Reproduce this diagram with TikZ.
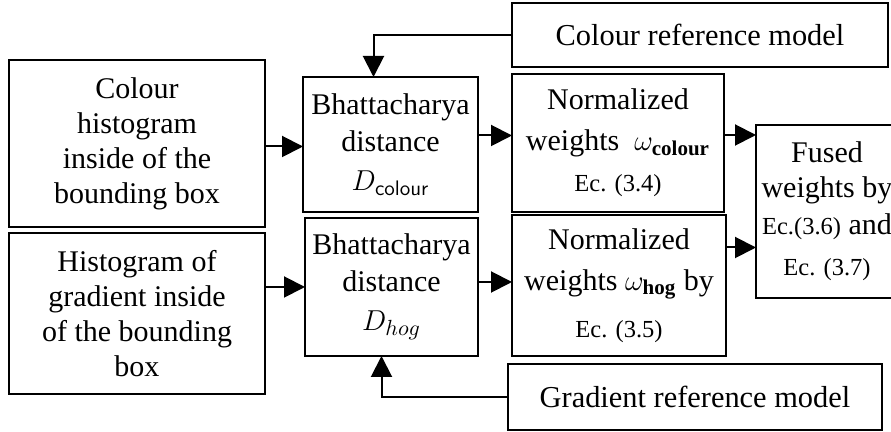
\documentclass[tikz,border=0pt]{standalone}
\usepackage{fontspec}
\setmainfont{Liberation Serif}
\usetikzlibrary{positioning,arrows.meta}

\newcommand{\eqfont}{\fontsize{12.25}{14}\selectfont}

\begin{document}
\begin{tikzpicture}[
	x=0.5pt, y=-0.5pt,
	mybox/.style = {
		draw, rectangle, align=center, line width=1pt,
		font=\fontsize{15}{17.5}\selectfont,
		inner sep=0pt, outer sep=0pt},
	refbox/.style = {
		mybox, font=\fontsize{15.2}{17.5}\selectfont},
	arrow/.style = {line width=1pt, -{Triangle[length=10.5pt,width=10.5pt]}}
]
\useasboundingbox (0,0) rectangle (891,432);
\clip (0,0) rectangle (891,432);

\node (hcol) [mybox, minimum width=128pt, minimum height=83.5pt] at (137,143.5)
	{Colour\\ histogram\\ inside of the\\ bounding box};
\node (hhog) [mybox, minimum width=128pt, minimum height=80.5pt] at (137,313.5)
	{Histogram of\\ gradient inside\\ of the bounding\\ box};

\node (bcol) [mybox, minimum width=87.5pt, minimum height=67.5pt] at (390.5,144.5)
	{Bhattacharya\\[1pt] distance\\[2pt] $D_{\mathsf{colour}}$};
\node (bhog) [mybox, minimum width=86.5pt, minimum height=69pt] at (391.5,287)
	{Bhattacharya\\[1pt] distance\\[2pt] $D_{hog}$};

\node (ncol) [mybox, minimum width=106pt, minimum height=69pt] at (618,143)
	{Normalized\\[3pt] weights~~$\omega_{\mathbf{colour}}$\\[3pt] {\eqfont Ec. (3.4)}};
\node (nhog) [mybox, minimum width=107pt, minimum height=70.5pt] at (619,285.5)
	{Normalized\\[3pt] weights $\omega_{\mathbf{hog}}$ by\\[6pt] {\eqfont Ec. (3.5)}};

\node (fused) [mybox, minimum width=71pt, minimum height=86.5pt] at (827,211.5)
	{Fused\\ weights by\\[1pt] {\eqfont Ec.(3.6)} and\\[3pt] {\eqfont Ec. (3.7)}};

\node (rcol) [refbox, minimum width=188pt, minimum height=32pt] at (700,35)
	{Colour reference model};
\node (rhog) [refbox, minimum width=187pt, minimum height=33pt] at (695,397)
	{Gradient reference model};

\draw[arrow] ([yshift=-1.5pt]hcol.east) -- ([yshift=-1.5pt]hcol.east -| bcol.west);
\draw[arrow] (hhog.east |- bhog) -- (bhog.west);
\draw[arrow] ([yshift=4.5pt]bcol.east) -- ([yshift=4.5pt]bcol.east -| ncol.west);
\draw[arrow] ([yshift=2.5pt]bhog.east) -- ([yshift=2.5pt]bhog.east -| nhog.west);
\draw[arrow] ([yshift=4pt]ncol.east) -- ([yshift=4pt]ncol.east -| fused.west);
\draw[arrow] ([yshift=19pt]nhog.east) -- ([yshift=19pt]nhog.east -| fused.west);
\draw[arrow] (rcol.west) -| ([xshift=-8.5pt]bcol.north);
\draw[arrow] (rhog.west) -| ([xshift=-5pt]bhog.south);
\end{tikzpicture}
\end{document}
